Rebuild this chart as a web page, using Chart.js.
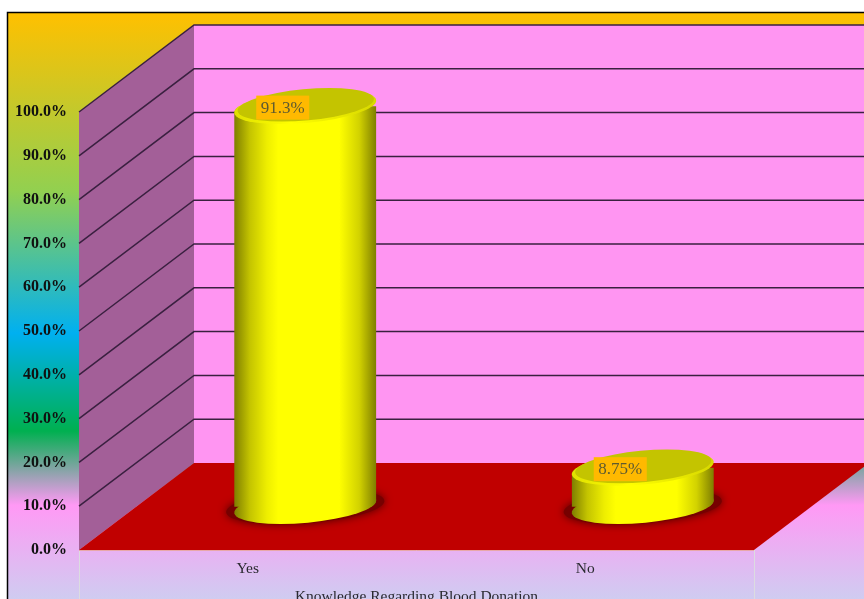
<!DOCTYPE html>
<html>
<head>
<meta charset="utf-8">
<script src="https://cdn.jsdelivr.net/npm/chart.js@4/dist/chart.umd.min.js"></script>
<style>
    html, body { margin: 0; background: #fff; overflow: hidden; }
    canvas { display: block; }
</style>
</head>
<body>
<canvas id="cchart" width="864" height="606"></canvas>
<script>
const categories = ["Yes", "No"];
const knowledgeValues = [91.3, 8.75];
const valueLabels = ["91.3%", "8.75%"];
const axisTitle = "Knowledge Regarding Blood Donation";

const SERIF = "'Liberation Serif', 'Times New Roman', serif";
const DEPTH_X = 115, DEPTH_Y = 87;
const RADIUS_U = 66.6, RADIUS_VX = 24.5, RADIUS_VY = -17.5;
const TANGENT = Math.atan2(RADIUS_VX, RADIUS_U);

/* 
    The sheared circle used for the top and the bottom of a cylinder
*/
function ellipsePath(ctx, cx, cy, scale, start, end, ccw) {
    ctx.save();
    ctx.transform(RADIUS_U * scale, 0, RADIUS_VX * scale, RADIUS_VY * scale, cx, cy);
    ctx.arc(0, 0, 1, start, end, ccw);
    ctx.restore();
}

function bodyGradient(ctx, cx) {
    let g = ctx.createLinearGradient(cx - 71, 0, cx + 71, 0);
    g.addColorStop(0, "#7e7e00");
    g.addColorStop(0.11, "#c4c400");
    g.addColorStop(0.23, "#eeee00");
    g.addColorStop(0.31, "#ffff00");
    g.addColorStop(0.74, "#ffff00");
    g.addColorStop(0.88, "#d2d200");
    g.addColorStop(1, "#7e7e00");
    return g;
}

function silhouettePath(ctx, cx, baseY, topY) {
    ctx.moveTo(cx + RADIUS_U * Math.cos(TANGENT) + RADIUS_VX * Math.sin(TANGENT), baseY + RADIUS_VY * Math.sin(TANGENT));
    ellipsePath(ctx, cx, baseY, 1, TANGENT, TANGENT - Math.PI, true);
    ellipsePath(ctx, cx, topY, 1, TANGENT + Math.PI, TANGENT, true);
    ctx.closePath();
}

const scenePlugin = {
    id: "scene",
    beforeDraw(chart) {
        const { ctx, width, height } = chart;
        ctx.save();
        ctx.fillStyle = "#fff";
        ctx.fillRect(0, 0, width, height);
        let bg = ctx.createLinearGradient(0, 13, 0, 606);
        bg.addColorStop(0, "#ffc000");
        bg.addColorStop(0.3, "#92d050");
        bg.addColorStop(0.54, "#00b0f0");
        bg.addColorStop(0.705, "#00b050");
        bg.addColorStop(0.83, "#ff99f5");
        bg.addColorStop(1, "#ccd0f0");
        ctx.fillStyle = bg;
        ctx.fillRect(8, 13, width, height);
        ctx.strokeStyle = "#000";
        ctx.lineWidth = 1.5;
        ctx.strokeRect(7.5, 12.5, width + 10, height + 10);
        ctx.restore();
    },
    beforeDatasetsDraw(chart) {
        const { ctx, chartArea: a, scales } = chart;
        const y = scales.y;
        ctx.save();

        // back wall
        ctx.fillStyle = "#ff95f2";
        ctx.fillRect(a.left + DEPTH_X, a.top - DEPTH_Y, a.right - a.left, a.bottom - a.top);

        // side wall
        ctx.fillStyle = "#a35f98";
        ctx.beginPath();
        ctx.moveTo(a.left, a.bottom);
        ctx.lineTo(a.left, a.top);
        ctx.lineTo(a.left + DEPTH_X, a.top - DEPTH_Y);
        ctx.lineTo(a.left + DEPTH_X, a.bottom - DEPTH_Y);
        ctx.closePath();
        ctx.fill();

        // floor
        ctx.fillStyle = "#c00000";
        ctx.beginPath();
        ctx.moveTo(a.left, a.bottom);
        ctx.lineTo(a.right, a.bottom);
        ctx.lineTo(a.right + DEPTH_X, a.bottom - DEPTH_Y);
        ctx.lineTo(a.left + DEPTH_X, a.bottom - DEPTH_Y);
        ctx.closePath();
        ctx.fill();

        // grid lines on both walls
        ctx.strokeStyle = "#3a2040";
        ctx.lineWidth = 1.5;
        y.ticks.forEach((tick, i) => {
            if (tick.value === 0) return;
            let py = y.getPixelForTick(i);
            ctx.beginPath();
            ctx.moveTo(a.left, py);
            ctx.lineTo(a.left + DEPTH_X, py - DEPTH_Y);
            ctx.lineTo(a.right + DEPTH_X, py - DEPTH_Y);
            ctx.stroke();
        });

        // axis edges below the floor
        ctx.strokeStyle = "#dcdce0";
        ctx.lineWidth = 1;
        ctx.beginPath();
        ctx.moveTo(a.left + 0.5, a.bottom);
        ctx.lineTo(a.left + 0.5, chart.height);
        ctx.moveTo(a.right + 0.5, a.bottom);
        ctx.lineTo(a.right + 0.5, chart.height);
        ctx.stroke();
        ctx.strokeStyle = "#e8a8a8";
        ctx.beginPath();
        ctx.moveTo(a.left, a.bottom + 0.5);
        ctx.lineTo(a.right, a.bottom + 0.5);
        ctx.stroke();
        ctx.restore();
    },
    beforeDatasetDraw(chart) {
        const { ctx } = chart;
        const bars = chart.getDatasetMeta(0).data;
        const baseY = bars[0].base - DEPTH_Y / 2;

        // floor shadow and bottom of each cylinder
        bars.forEach(bar => {
            let cx = bar.x + DEPTH_X / 2;
            ctx.save();
            ctx.shadowColor = "rgba(80, 0, 0, 1)";
            ctx.shadowBlur = 9;
            ctx.fillStyle = "#760000";
            ctx.beginPath();
            ctx.save();
            ctx.transform(RADIUS_U * 1.13, 0, RADIUS_VX, RADIUS_VY * 1.02, cx, baseY);
            ctx.arc(0, 0, 1, 0, Math.PI * 2);
            ctx.restore();
            ctx.fill();
            ctx.restore();
            ctx.fillStyle = bodyGradient(ctx, cx);
            ctx.beginPath();
            ellipsePath(ctx, cx, baseY, 1, 0, Math.PI * 2, false);
            ctx.fill();
        });

        // the library's bars are the bodies, moved to mid depth and cut to the cylinder outline
        ctx.save();
        ctx.beginPath();
        bars.forEach(bar => {
            silhouettePath(ctx, bar.x + DEPTH_X / 2, baseY, bar.y - DEPTH_Y / 2);
        });
        ctx.clip();
        ctx.translate(DEPTH_X / 2, -DEPTH_Y / 2);
    },
    afterDatasetDraw(chart) {
        chart.ctx.restore();
    },
    afterDatasetsDraw(chart) {
        const { ctx } = chart;
        chart.getDatasetMeta(0).data.forEach((bar, i) => {
            let cx = bar.x + DEPTH_X / 2;
            let cy = bar.y - DEPTH_Y / 2;

            // cap with a bright rim
            let rim = ctx.createLinearGradient(cx - 71, 0, cx + 71, 0);
            rim.addColorStop(0, "#e0e000");
            rim.addColorStop(0.4, "#ffff00");
            rim.addColorStop(1, "#d8d800");
            ctx.fillStyle = rim;
            ctx.beginPath();
            ellipsePath(ctx, cx, cy, 1, 0, Math.PI * 2, false);
            ctx.fill();
            ctx.fillStyle = "#c4c400";
            ctx.beginPath();
            ellipsePath(ctx, cx + 0.5, cy - 1.8, 0.96, 0, Math.PI * 2, false);
            ctx.fill();

            // value label box
            let lx = cx - 22.5;
            let ly = cy + 1;
            ctx.fillStyle = "#ffb900";
            ctx.fillRect(lx - 26.5, ly - 12, 53, 24);
            ctx.fillStyle = "#5e5a30";
            ctx.font = "17px " + SERIF;
            ctx.textAlign = "center";
            ctx.textBaseline = "middle";
            ctx.fillText(valueLabels[i], lx, ly + 0.5);
        });
    }
};

let UICanvasChart = document.getElementById("cchart");
let _chart = new Chart(UICanvasChart.getContext("2d"), {
    type: "bar",
    data: {
        labels: categories,
        datasets: [{
            label: "Knowledge",
            data: knowledgeValues,
            barThickness: 142,
            clip: false,
            borderWidth: 0,
            backgroundColor: function (context) {
                let x = context.chart.scales.x;
                if (!x || !context.chart.chartArea) return "#ffff00";
                // bars get drawn in the translated mid depth space
                return bodyGradient(context.chart.ctx, x.getPixelForValue(context.dataIndex));
            }
        }]
    },
    options: {
        responsive: false,
        animation: false,
        layout: { padding: { top: 112, right: 110, left: 0, bottom: 0 } },
        plugins: { legend: { display: false }, tooltip: { enabled: false } },
        scales: {
            x: {
                afterFit: scale => { scale.height = 56; },
                grid: { display: false },
                border: { display: false },
                ticks: { color: "#2a2a30", font: { family: SERIF, size: 15.5 }, padding: 2 },
                title: {
                    display: true,
                    text: axisTitle,
                    color: "#2a2a30",
                    font: { family: SERIF, size: 15.5 },
                    padding: { top: 0, bottom: 0 }
                }
            },
            y: {
                min: 0,
                max: 100,
                afterFit: scale => { scale.width = 79; },
                grid: { display: false },
                border: { display: false },
                ticks: {
                    stepSize: 10,
                    color: "#101010",
                    padding: 4,
                    font: { family: SERIF, size: 16, weight: "bold" },
                    callback: value => value.toFixed(1) + "%"
                }
            }
        }
    },
    plugins: [scenePlugin]
});
</script>
</body>
</html>
